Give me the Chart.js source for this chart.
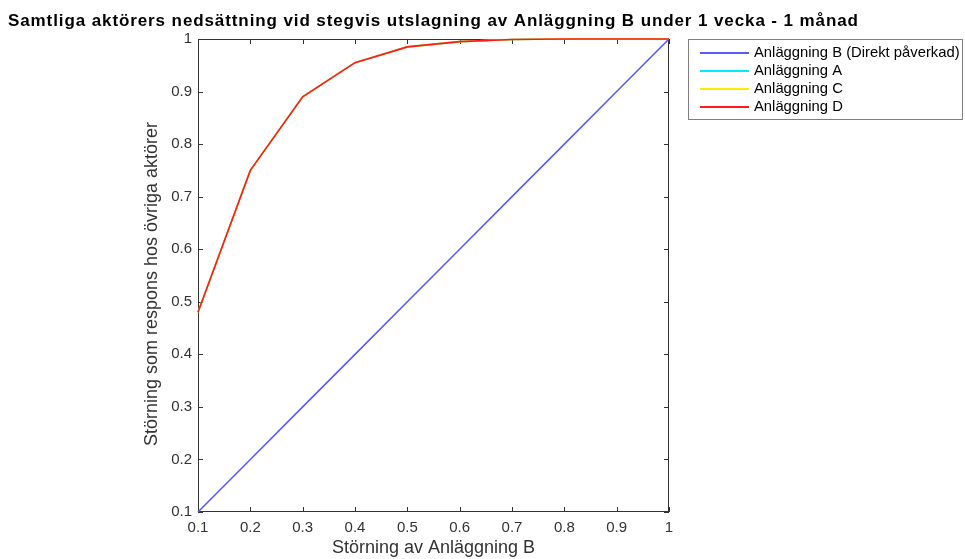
<!DOCTYPE html>
<html>
<head>
<meta charset="utf-8">
<script src="https://cdn.jsdelivr.net/npm/chart.js@4.4.1/dist/chart.umd.min.js"></script>
<style>
  body { margin: 0; background: #fff; }
</style>
</head>
<body>
<canvas id="myChart" width="965" height="559"></canvas>
<script>
// データ
const xValues = [0.1, 0.2, 0.3, 0.4, 0.5, 0.6, 0.7, 0.8, 0.9, 1];
const anlB = [0.1, 0.2, 0.3, 0.4, 0.5, 0.6, 0.7, 0.8, 0.9, 1];
const anlA = [0.48, 0.75, 0.89, 0.955, 0.985, 0.995, 0.999, 1, 1, 1];
const anlC = [0.48, 0.75, 0.89, 0.955, 0.985, 0.995, 0.999, 1, 1, 1];
const anlD = [0.48, 0.75, 0.89, 0.955, 0.985, 0.995, 0.999, 1, 1, 1];
const tickValues = [0.1, 0.2, 0.3, 0.4, 0.5, 0.6, 0.7, 0.8, 0.9, 1];
const seriesLabels = ['Anläggning B (Direkt påverkad)', 'Anläggning A', 'Anläggning C', 'Anläggning D'];
const seriesColors = ['rgb(90,90,255)', 'rgb(0,235,255)', 'rgb(255,235,0)', 'rgb(255,25,25)'];

const chartTitle = 'Samtliga aktörers nedsättning vid stegvis utslagning av Anläggning B under 1 vecka - 1 månad';
const yTitle = 'Störning som respons hos övriga aktörer';
const FONT = '"Liberation Sans", Arial, Helvetica, sans-serif';
const AXIS_COLOR = '#333333';

const toPoints = (ys) => xValues.map((x, i) => ({ x: x, y: ys[i] }));

function series(i, ys) {
  return {
    label: seriesLabels[i],
    data: toPoints(ys),
    borderColor: seriesColors[i],
    backgroundColor: seriesColors[i],
    borderWidth: 1.6,
    pointRadius: 0,
    tension: 0,
    clip: false,
    order: 3 - i, // 後の系列を上に描く
  };
}

// 枠・目盛り・タイトル・凡例を描くプラグイン
const matlabLook = {
  id: 'matlabLook',
  beforeDatasetsDraw(chart) {
    const { ctx, chartArea: a, scales } = chart;
    ctx.save();
    ctx.strokeStyle = AXIS_COLOR;
    ctx.lineWidth = 1;
    ctx.strokeRect(a.left + 0.5, a.top + 0.5, a.right - a.left - 1, a.bottom - a.top - 1);
    const tl = 5;
    ctx.beginPath();
    tickValues.forEach((v) => {
      const px = Math.round(scales.x.getPixelForValue(v)) + 0.5;
      ctx.moveTo(px, a.bottom); ctx.lineTo(px, a.bottom - tl);
      ctx.moveTo(px, a.top); ctx.lineTo(px, a.top + tl);
      const py = Math.round(scales.y.getPixelForValue(v)) + 0.5;
      ctx.moveTo(a.left, py); ctx.lineTo(a.left + tl, py);
      ctx.moveTo(a.right, py); ctx.lineTo(a.right - tl, py);
    });
    ctx.stroke();
    ctx.restore();
  },
  afterDatasetsDraw(chart) {
    const { ctx } = chart;
    ctx.save();

    // タイトル
    ctx.fillStyle = '#000';
    ctx.font = 'bold 17px ' + FONT;
    ctx.letterSpacing = '0.9px';
    ctx.textBaseline = 'middle';
    ctx.textAlign = 'left';
    ctx.fillText(chartTitle, 8, 21);
    ctx.letterSpacing = '0px';

    // Y軸タイトル
    ctx.save();
    ctx.translate(152, 284);
    ctx.rotate(-Math.PI / 2);
    ctx.fillStyle = AXIS_COLOR;
    ctx.font = '18px ' + FONT;
    ctx.textAlign = 'center';
    ctx.fillText(yTitle, 0, 0);
    ctx.restore();

    // 凡例
    const lx = 688, ly = 39, lw = 275, lh = 81;
    ctx.fillStyle = '#fff';
    ctx.fillRect(lx, ly, lw, lh);
    ctx.strokeStyle = '#7f7f7f';
    ctx.lineWidth = 1;
    ctx.strokeRect(lx + 0.5, ly + 0.5, lw - 1, lh - 1);
    ctx.font = '14.8px ' + FONT;
    ctx.textAlign = 'left';
    seriesLabels.forEach((label, i) => {
      const y = Math.round(53 + i * 18);
      ctx.strokeStyle = seriesColors[i];
      ctx.lineWidth = 1.8;
      ctx.beginPath();
      ctx.moveTo(700, y); ctx.lineTo(749, y);
      ctx.stroke();
      ctx.fillStyle = '#000';
      ctx.fillText(label, 754, y);
    });
    ctx.restore();
  },
};

const ctx = document.getElementById('myChart').getContext('2d');
new Chart(ctx, {
  type: 'line',
  data: {
    datasets: [
      series(0, anlB),
      series(1, anlA),
      series(2, anlC),
      series(3, anlD),
    ],
  },
  options: {
    responsive: false,
    animation: false,
    layout: { padding: { top: 39, right: 296, left: 142, bottom: 0 } },
    plugins: {
      legend: { display: false },
      title: { display: false },
      tooltip: { enabled: false },
    },
    scales: {
      x: {
        type: 'linear',
        min: 0.1,
        max: 1,
        afterBuildTicks: (s) => { s.ticks = tickValues.map((v) => ({ value: v })); },
        afterFit: (s) => { s.height = 47; },
        grid: { display: false, drawTicks: false },
        border: { display: false },
        ticks: {
          padding: 7,
          maxRotation: 0,
          color: AXIS_COLOR,
          font: { family: FONT, size: 15 },
          callback: (v) => String(+v.toFixed(2)),
        },
        title: {
          display: true,
          text: 'Störning av Anläggning B',
          color: AXIS_COLOR,
          padding: 0,
          font: { family: FONT, size: 18 },
        },
      },
      y: {
        type: 'linear',
        min: 0.1,
        max: 1,
        afterBuildTicks: (s) => { s.ticks = tickValues.map((v) => ({ value: v })); },
        afterFit: (s) => { s.width = 56; },
        grid: { display: false, drawTicks: false },
        border: { display: false },
        ticks: {
          padding: 6,
          color: AXIS_COLOR,
          font: { family: FONT, size: 15 },
          callback: (v) => String(+v.toFixed(2)),
        },
        title: { display: false },
      },
    },
  },
  plugins: [matlabLook],
});
</script>
</body>
</html>
